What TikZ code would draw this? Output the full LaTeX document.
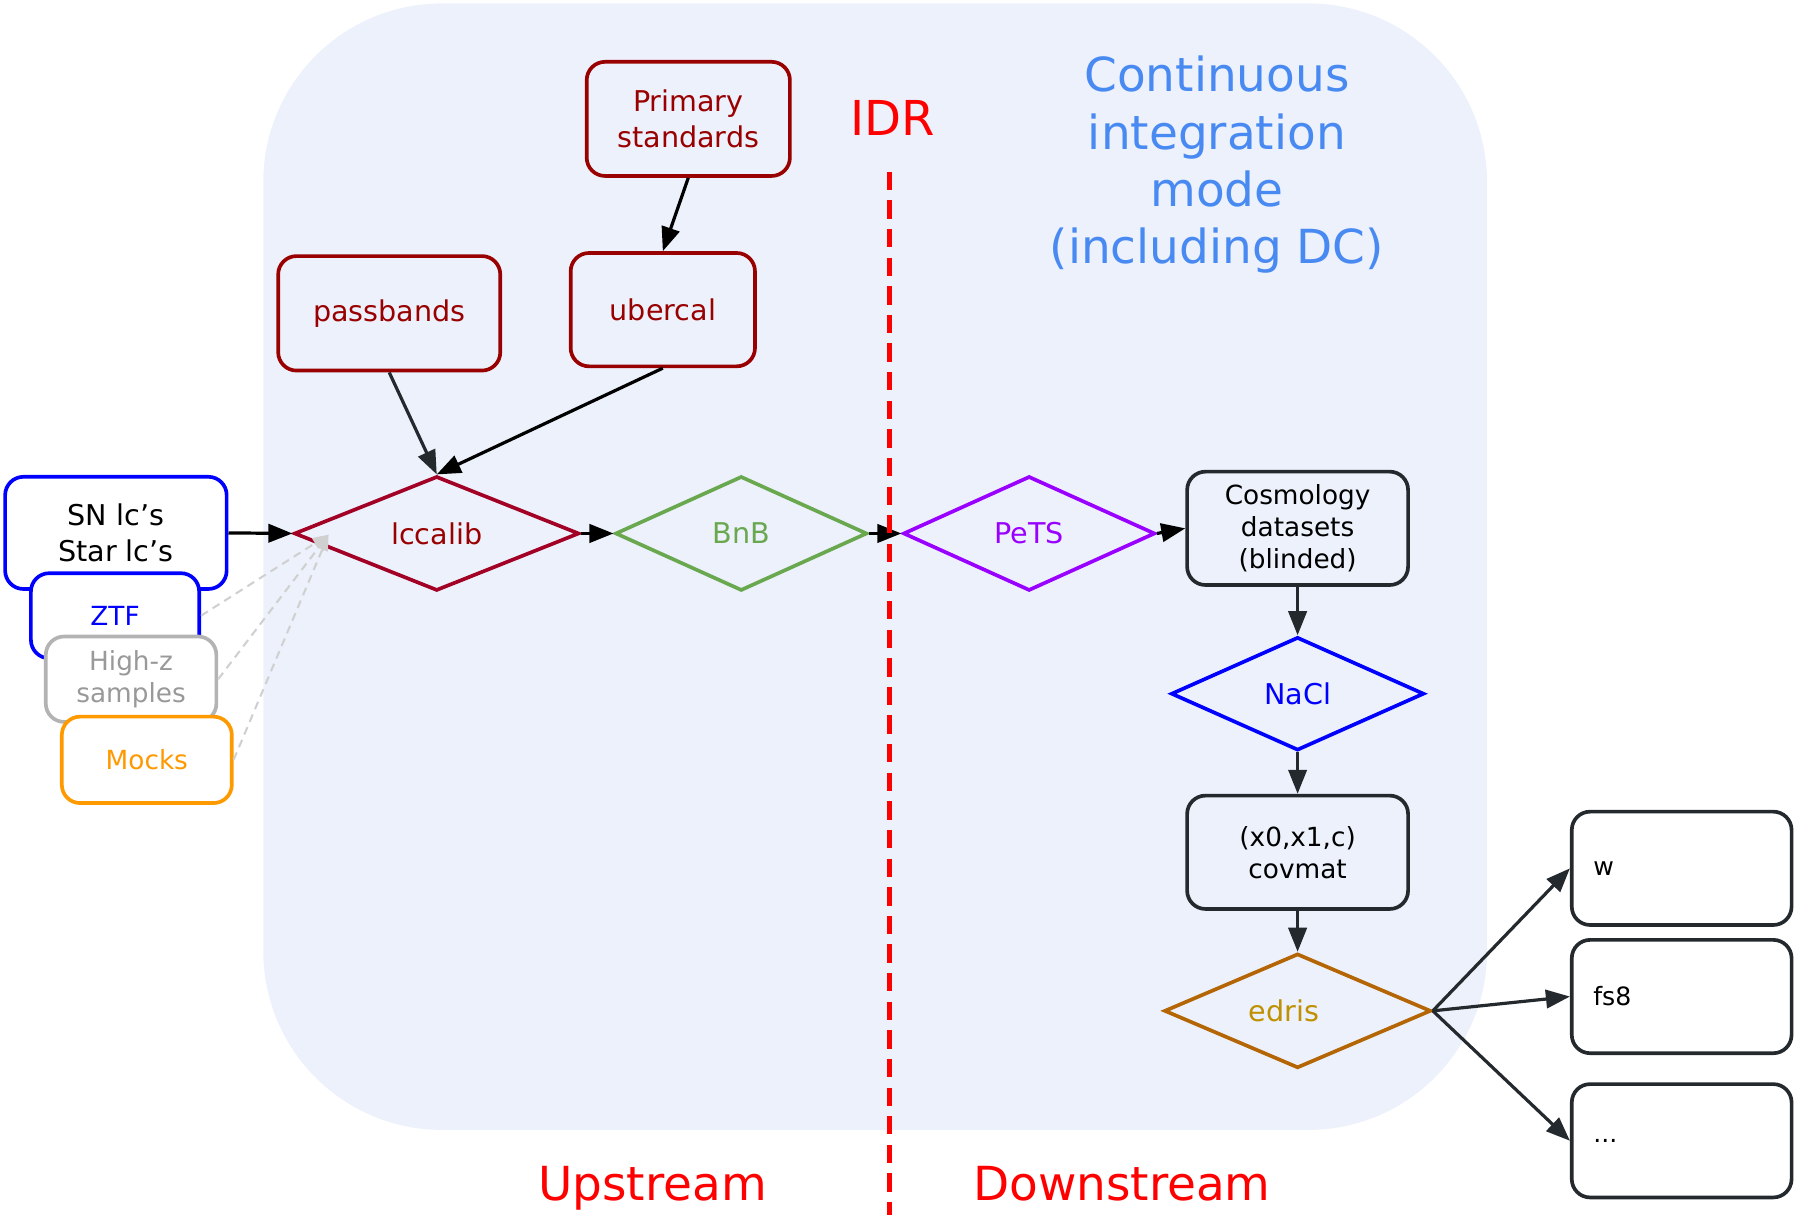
\documentclass[tikz,border=0pt]{standalone}
\usepackage{fontspec}
\setmainfont{DejaVu Sans}
\usetikzlibrary{arrows.meta,shapes.geometric}
\definecolor{bgblue}{RGB}{236,241,251}
\definecolor{dkred}{RGB}{153,0,0}
\definecolor{crimsonc}{RGB}{162,0,37}
\definecolor{bnbgreen}{RGB}{106,168,79}
\definecolor{petspurple}{RGB}{153,0,255}
\definecolor{purblue}{RGB}{0,0,255}
\definecolor{grystroke}{RGB}{179,179,179}
\definecolor{grytext}{RGB}{153,153,153}
\definecolor{orangec}{RGB}{255,153,0}
\definecolor{edstroke}{RGB}{180,101,4}
\definecolor{edtext}{RGB}{191,144,0}
\definecolor{darkc}{RGB}{36,41,46}
\definecolor{contblue}{RGB}{72,138,242}
\definecolor{idrred}{RGB}{255,0,0}
\definecolor{ghostgray}{RGB}{208,208,208}
\newcommand\fsz[2]{\fontsize{#1}{#2}\selectfont}
\tikzset{
  box/.style={draw, rounded corners=8pt, line width=1.6pt, align=center, inner sep=0pt},
  dia/.style={draw, diamond, line width=1.6pt, inner sep=0pt, aspect=2.4},
  arr/.style={line width=1.4pt, -{Triangle[length=10.5pt,width=8pt]}},
  ghost/.style={draw=ghostgray, line width=0.9pt, dash pattern=on 3.5pt off 2.5pt, -{Triangle[length=7pt,width=5pt]}},
  big/.style={font=\fsz{20.5}{25}},
}
\begin{document}
\begin{tikzpicture}[x=0.5pt,y=-0.5pt]
\useasboundingbox (0,0) rectangle (1568,1061);
% background
\fill[bgblue, rounded corners=78pt] (230,3) rectangle (1299,987);

% calibration inputs
\node[box, draw=dkred, text=dkred, font=\fsz{12.5}{15.5}, minimum width=88.75pt, minimum height=49.85pt] (prim) at (601.25,103.85) {Primary\\standards};
\node[box, draw=dkred, text=dkred, font=\fsz{12.5}{15.5}, minimum width=80.5pt, minimum height=49.5pt] (uber) at (579,270.5) {ubercal};
\node[box, draw=dkred, text=dkred, font=\fsz{12.5}{15.5}, minimum width=97pt, minimum height=50pt] (pass) at (340,273.7) {passbands};

% left data boxes
\node[box, draw=purblue, fill=white, font=\fsz{12.5}{15.5}, minimum width=96.75pt, minimum height=49pt] (sn) at (101.25,465.5) {SN lc’s\\Star lc’s};
\node[box, draw=purblue, fill=white, text=purblue, font=\fsz{11.5}{14}, minimum width=73.5pt, minimum height=37.15pt] (ztf) at (100.5,537.85) {ZTF};
\node[box, draw=grystroke, fill=white, text=grytext, font=\fsz{11.5}{14}, minimum width=74.5pt, minimum height=37.3pt] (highz) at (114.5,593.3) {High-z\\samples};
\node[box, draw=orangec, fill=white, text=orangec, font=\fsz{11.5}{14}, minimum width=74.25pt, minimum height=37.75pt] (mocks) at (128.25,663.75) {Mocks};

% pipeline
\node[dia, draw=crimsonc, text=dkred, font=\fsz{12.5}{15}, minimum width=124.5pt, minimum height=50pt] (lcc) at (381.5,466) {lccalib};
\node[dia, draw=bnbgreen, text=bnbgreen, font=\fsz{12.5}{15}, minimum width=110pt, minimum height=50pt] (bnb) at (647.5,466) {BnB};
\node[dia, draw=petspurple, text=petspurple, font=\fsz{12.5}{15}, minimum width=110pt, minimum height=50pt] (pets) at (899,466) {PeTS};
\node[box, draw=darkc, font=\fsz{11.5}{14}, minimum width=96.5pt, minimum height=49.5pt] (cosmo) at (1133.5,461.5) {Cosmology\\datasets\\(blinded)};
\node[dia, draw=purblue, text=purblue, font=\fsz{12.5}{15}, minimum width=110.5pt, minimum height=49.5pt] (nacl) at (1133.5,606) {NaCl};
\node[box, draw=darkc, font=\fsz{11.5}{14}, minimum width=96.5pt, minimum height=49.5pt] (covmat) at (1133.5,744.5) {(x0,x1,c)\\covmat};
\node[dia, draw=edstroke, minimum width=116.5pt, minimum height=50pt,
      label={[xshift=-6pt, text=edtext, font=\fsz{12.5}{15}]center:edris}] (edris) at (1133.5,883) {};

% outputs
\node[box, draw=darkc, fill=white, minimum width=96pt, minimum height=49.5pt,
      label={[anchor=west, xshift=10pt, inner sep=0pt, font=\fsz{11}{13}]west:w}] (wout) at (1469,758.5) {};
\node[box, draw=darkc, fill=white, minimum width=96pt, minimum height=49.5pt,
      label={[anchor=west, xshift=10pt, inner sep=0pt, font=\fsz{11}{13}]west:fs8}] (fsout) at (1469,870.5) {};
\node[box, draw=darkc, fill=white, minimum width=96pt, minimum height=49.5pt,
      label={[anchor=west, xshift=10pt, inner sep=0pt, font=\fsz{11}{13}]west:...}] (dots) at (1469,996.5) {};

% connectors
\coordinate (lcin) at (287,467);
\draw[ghost] (ztf.east) -- (lcin);
\draw[ghost] (highz.east) -- (lcin);
\draw[ghost] (mocks.east) -- (lcin);

\draw[arr] (sn.east) -- (lcc.west);
\draw[arr] (prim.south) -- (uber.north);
\draw[arr, darkc] (pass.south) -- (lcc.north);
\draw[arr] (uber.south) -- (lcc.north);
\draw[arr] (lcc.east) -- (bnb.west);
\draw[arr] (bnb.east) -- (pets.west);
\draw[arr] (pets.east) -- (cosmo.west);
\draw[arr, darkc] (cosmo.south) -- (nacl.north);
\draw[arr, darkc] (nacl.south) -- (covmat.north);
\draw[arr, darkc] (covmat.south) -- (edris.north);
\draw[arr, darkc] (edris.east) -- (wout.west);
\draw[arr, darkc] (edris.east) -- (fsout.west);
\draw[arr, darkc] (edris.east) -- (dots.west);

% IDR line
\coordinate (idrtop) at (777,150);
\coordinate (idrbot) at (777,1061);
\draw[idrred, line width=2pt, dash pattern=on 8pt off 4.5pt] (idrtop) -- (idrbot);

% labels
\node[text=idrred, font=\fsz{21}{25}, anchor=base, inner sep=0pt] (idr) at (780,118) {IDR};
\node[text=idrred, big, anchor=base, inner sep=0pt] (up) at (570,1049) {Upstream};
\node[text=idrred, big, anchor=base, inner sep=0pt] (down) at (980,1049) {Downstream};
\node[text=contblue, big, align=center, inner sep=0pt] (cont) at (1063,144) {Continuous\\integration\\mode\\(including DC)};
\end{tikzpicture}
\end{document}
